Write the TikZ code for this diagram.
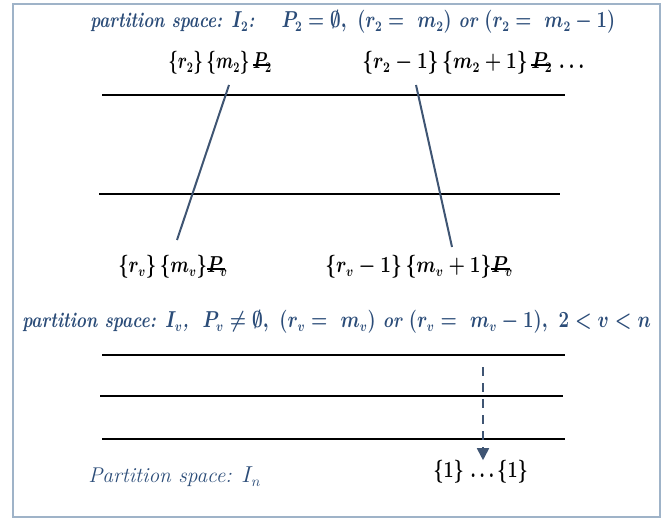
\documentclass[tikz,border=0pt]{standalone}
\usepackage{amsmath,amssymb,graphicx}
\usetikzlibrary{arrows.meta}
\definecolor{framecol}{HTML}{9FB3C8}
\definecolor{titleblue}{HTML}{2B4C78}
\definecolor{lineblue}{HTML}{3F5573}
\newcommand\strikeP[1]{\mbox{\rlap{\rule[0.25ex]{1.05em}{0.09em}}$P_{#1}$}}
\newcommand\sx[2]{\scalebox{#1}[1]{#2}}
\tikzset{
  titletext/.style={text=titleblue, inner sep=0pt, font=\fontsize{16}{18}\selectfont\bfseries\itshape\boldmath},
  lbl/.style={text=black, inner sep=0pt, font=\fontsize{16}{18}\selectfont\bfseries\boldmath},
  level/.style={draw=black, line width=1.3pt},
  cut/.style={draw=lineblue, line width=1.5pt},
}
\begin{document}
\begin{tikzpicture}[x=0.75pt,y=-0.75pt]
\useasboundingbox (0,0) rectangle (666,520);
\draw[framecol, line width=1.2pt] (13,4) rectangle (660,517);

\node[titletext, anchor=west] (t1) at (90,22) {\sx{0.80}{partition space: $I_2$:\hspace{1.6em}$P_2=\emptyset,\ (r_2=\ m_2)$ or $(r_2=\ m_2-1)$}};
\node[lbl, anchor=west] (a1) at (168,63) {\sx{0.73}{$\{r_2\}\,\{m_2\}\,$\strikeP{2}}};
\node[lbl, anchor=west] (a2) at (362,63) {\sx{0.82}{$\{r_2-1\}\,\{m_2+1\}\,$\strikeP{2} $\ldots$}};

\coordinate (l1a) at (102,95); \coordinate (l1b) at (565,95);
\coordinate (l2a) at (99,194); \coordinate (l2b) at (560,194);
\draw[level] (l1a) -- (l1b);
\draw[level] (l2a) -- (l2b);

\coordinate (c1a) at (229,85); \coordinate (c1b) at (177,240);
\coordinate (c2a) at (416,85); \coordinate (c2b) at (452,247);
\draw[cut] (c1a) -- (c1b);
\draw[cut] (c2a) -- (c2b);

\node[lbl, anchor=west] (b1) at (118,267) {\sx{0.79}{$\{r_v\}\,\{m_v\}$\strikeP{v}}};
\node[lbl, anchor=west] (b2) at (325,267) {\sx{0.82}{$\{r_v-1\}\,\{m_v+1\}$\strikeP{v}}};

\node[titletext, anchor=west] (t2) at (22,322) {\sx{0.81}{partition space: $I_v$,\hspace{0.8em}$P_v\neq\emptyset,\ (r_v=\ m_v)$ or $(r_v=\ m_v-1),\ 2<v<n$}};

\coordinate (m1a) at (102,355); \coordinate (m1b) at (565,355);
\coordinate (m2a) at (100,396); \coordinate (m2b) at (563,396);
\coordinate (m3a) at (102,439); \coordinate (m3b) at (565,439);
\draw[level] (m1a) -- (m1b);
\draw[level] (m2a) -- (m2b);
\draw[level] (m3a) -- (m3b);

\coordinate (arrA) at (483,367);
\node[lbl, anchor=west] (ones) at (433,472) {\sx{0.78}{$\{1\}$\ $\ldots$\,$\{1\}$}};
\draw[lineblue, line width=1.3pt, dash pattern=on 7pt off 5pt, -{Triangle[width=9pt,length=9pt]}] (arrA) -- (ones.north -| arrA);

\node[text=titleblue, inner sep=0pt, anchor=west, font=\fontsize{16}{18}\selectfont\itshape] (t3) at (88,477) {Partition space: $I_n$};
\end{tikzpicture}
\end{document}
